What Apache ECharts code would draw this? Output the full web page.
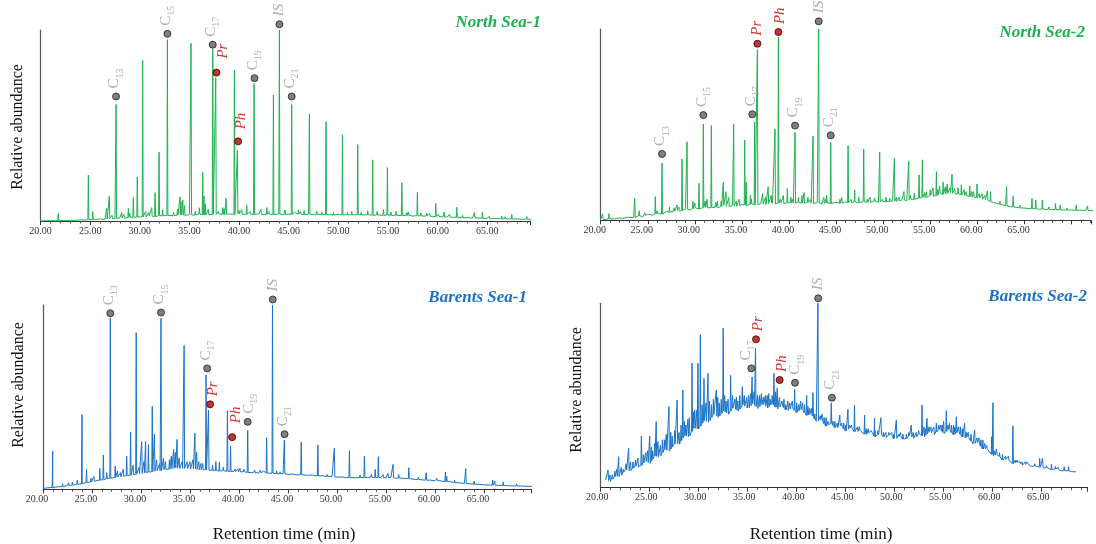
<!DOCTYPE html>
<html><head><meta charset="utf-8">
<script src="https://cdn.jsdelivr.net/npm/echarts@6/dist/echarts.min.js"></script>
<style>html,body{margin:0;padding:0;background:#fff}#c{width:1096px;height:544px}</style>
</head><body><div id="c"></div>
<script>
// ===== DATA =====
const xTickStep = 5;
const xLabelMax = 65;
const panelTitles = ['North Sea-1', 'North Sea-2', 'Barents Sea-1', 'Barents Sea-2'];
const yAxisTitle = 'Relative abundance';
const xAxisTitle = 'Retention time (min)';

// baselines: start time, step (min), values
const base1Start = 20, base1Step = 0.5;
const base1 = [0.000,0.001,0.002,0.001,0.003,0.002,0.004,0.003,0.006,0.005,0.009,0.007,0.011,0.009,0.013,0.012,0.017,0.014,0.020,0.018,
0.024,0.021,0.027,0.023,0.029,0.026,0.031,0.027,0.033,0.029,0.034,0.030,0.036,0.031,0.035,0.033,0.038,0.033,0.037,0.034,
0.038,0.033,0.037,0.034,0.038,0.033,0.036,0.034,0.037,0.033,0.036,0.034,0.037,0.033,0.036,0.033,0.036,0.032,0.035,0.032,
0.035,0.031,0.034,0.031,0.034,0.030,0.033,0.030,0.032,0.029,0.032,0.028,0.031,0.027,0.030,0.026,0.028,0.025,0.026,0.023,
0.024,0.021,0.022,0.019,0.020,0.017,0.018,0.015,0.016,0.014,0.014,0.012,0.013,0.011,0.012,0.010,0.011,0.009,0.010,0.009];
const peaks1 = [[21.79,0.04],[24.82,0.24],[25.26,0.05],[26.67,0.066],[26.93,0.13],[27.61,0.61],[28.18,0.045],[28.85,0.066],[29.35,0.122],[29.75,0.23],
[30.29,0.84],[31.54,0.148],[31.94,0.36],[32.78,0.95],[34.05,0.127],[34.33,0.11],[35.16,0.93],[36.34,0.255],[36.47,0.13],[37.35,0.90],
[37.65,0.75],[38.35,0.07],[38.69,0.12],[39.53,0.79],[39.83,0.37],[40.27,0.06],[40.77,0.084],[41.51,0.72],[42.79,0.07],[43.46,0.66],
[44.06,1.0],[44.63,0.058],[45.30,0.61],[45.98,0.058],[46.55,0.055],[47.08,0.56],[47.83,0.05],[48.33,0.048],[48.76,0.52],[50.41,0.45],
[51.35,0.05],[51.95,0.40],[52.96,0.054],[53.46,0.32],[54.54,0.06],[54.94,0.28],[55.81,0.05],[56.39,0.20],[57.05,0.047],[57.96,0.15],
[58.9,0.04],[59.81,0.092],[60.65,0.047],[61.93,0.072],[63.71,0.044],[64.51,0.047],[66.46,0.026],[66.8,0.023],[67.47,0.035],[68.98,0.023]];
const grass1 = [[23.1,0.012],[23.6,0.01],[25.9,0.02],[27.2,0.03],[28.4,0.035],[29.0,0.04],[30.6,0.05],[30.9,0.045],[31.2,0.07],[32.3,0.06],
[33.4,0.045],[33.8,0.06],[34.15,0.1],[34.5,0.08],[35.6,0.05],[36.0,0.07],[36.6,0.09],[36.9,0.06],[37.9,0.05],[38.5,0.065],
[40.0,0.055],[41.1,0.05],[42.2,0.06],[43.0,0.05],[45.6,0.045],[46.2,0.05],[49.5,0.045],[50.9,0.045],[52.3,0.045],[53.9,0.05],
[55.3,0.047],[56.9,0.045],[58.3,0.042],[59.2,0.04],[60.1,0.035],[61.2,0.035],[62.5,0.03],[63.2,0.028],[65.2,0.025],[65.8,0.022],[68.2,0.02]];
const ann1 = [['C13',27.61,0.652],['C15',32.78,0.98],['C17',37.35,0.923],['Pr',37.72,0.777],['Ph',39.9,0.417],['C19',41.55,0.748],['IS',44.06,1.03],['C21',45.3,0.652]];

const base2Start = 20, base2Step = 0.5;
const base2 = [0.005,0.004,0.009,0.007,0.012,0.010,0.016,0.014,0.023,0.020,0.032,0.027,0.037,0.033,0.046,0.040,0.053,0.047,0.060,0.054,
0.066,0.058,0.069,0.062,0.071,0.064,0.078,0.070,0.078,0.072,0.083,0.076,0.086,0.079,0.088,0.082,0.092,0.085,0.092,0.086,
0.095,0.088,0.095,0.088,0.094,0.087,0.092,0.086,0.092,0.087,0.094,0.088,0.096,0.090,0.097,0.091,0.098,0.092,0.099,0.094,
0.100,0.095,0.102,0.098,0.107,0.103,0.112,0.108,0.122,0.117,0.130,0.124,0.140,0.135,0.146,0.138,0.138,0.130,0.128,0.120,
0.120,0.110,0.106,0.096,0.090,0.082,0.076,0.071,0.069,0.065,0.064,0.061,0.062,0.058,0.059,0.056,0.057,0.055,0.055,0.053,
0.054,0.052,0.053,0.050,0.051,0.050];
const peaks2 = [[20.2,0.033],[20.88,0.035],[23.61,0.115],[24.1,0.05],[25.8,0.124],[26.51,0.30],[27.3,0.07],[28.1,0.08],[28.64,0.32],[29.17,0.41],
[29.8,0.1],[30.44,0.194],[30.9,0.504],[31.3,0.11],[31.75,0.495],[32.4,0.1],[33.02,0.2],[33.3,0.15],[33.6,0.12],[34.12,0.503],
[34.7,0.11],[35.29,0.42],[35.45,0.2],[35.9,0.13],[36.35,0.514],[36.64,0.893],[37.2,0.14],[37.78,0.176],[38.1,0.13],[38.51,0.477],
[38.87,0.957],[39.4,0.13],[39.82,0.167],[40.2,0.12],[40.64,0.46],[41.0,0.12],[41.37,0.13],[41.6,0.145],[42.0,0.12],[42.55,0.44],
[43.15,1.0],[43.7,0.12],[44.0,0.13],[44.43,0.407],[45.1,0.1],[45.6,0.12],[46.27,0.39],[46.98,0.158],[47.4,0.12],[47.93,0.373],
[48.6,0.12],[49.1,0.115],[49.63,0.357],[50.3,0.12],[50.7,0.115],[51.19,0.326],[51.7,0.12],[52.2,0.15],[52.71,0.31],[53.3,0.14],
[53.81,0.237],[54.16,0.316],[54.6,0.15],[55.0,0.16],[55.3,0.17],[55.65,0.254],[56.0,0.18],[56.36,0.2],[56.8,0.19],[57.31,0.242],
[57.95,0.17],[58.3,0.185],[58.8,0.15],[59.2,0.18],[59.6,0.15],[59.97,0.19],[60.5,0.14],[61.07,0.155],[61.4,0.15],[61.8,0.1],
[63.1,0.176],[63.8,0.127],[65.8,0.115],[66.2,0.106],[66.9,0.106],[68.3,0.088],[68.8,0.08],[70.5,0.08],[71.7,0.075]];
const grass2 = [[22.4,0.02],[24.7,0.04],[26.0,0.05],[27.8,0.065],[28.3,0.07],[30.0,0.09],[31.1,0.1],[32.2,0.095],[32.8,0.1],[34.4,0.1],
[36.0,0.11],[37.5,0.12],[38.2,0.12],[39.1,0.11],[40.4,0.11],[42.3,0.11],[43.9,0.11],[45.4,0.11],[46.6,0.11],[48.3,0.11],
[49.9,0.11],[51.4,0.12],[52.9,0.13],[54.4,0.145],[55.8,0.16],[56.6,0.175],[57.1,0.17],[57.6,0.165],[58.6,0.16],[59.4,0.15],
[60.2,0.14],[60.8,0.13],[62.4,0.1],[64.5,0.08],[67.6,0.07],[69.5,0.065]];
const ann2 = [['C13',26.51,0.347],['C15',30.9,0.55],['C17',36.1,0.554],['Pr',36.64,0.923],['Ph',38.87,0.984],['C19',40.64,0.495],['IS',43.15,1.04],['C21',44.43,0.444]];

const base3Start = 20, base3Step = 0.5;
const base3 = [0.005,0.008,0.010,0.013,0.015,0.020,0.022,0.028,0.030,0.038,0.040,0.048,0.050,0.058,0.060,0.066,0.068,0.074,0.077,0.082,
0.086,0.092,0.094,0.100,0.101,0.108,0.110,0.117,0.112,0.114,0.109,0.111,0.105,0.108,0.102,0.104,0.099,0.101,0.096,0.098,
0.094,0.096,0.090,0.092,0.088,0.090,0.086,0.088,0.083,0.085,0.081,0.083,0.078,0.080,0.076,0.077,0.072,0.074,0.069,0.070,
0.066,0.067,0.063,0.066,0.062,0.065,0.063,0.066,0.063,0.065,0.062,0.064,0.060,0.062,0.058,0.059,0.053,0.054,0.049,0.050,
0.046,0.047,0.041,0.042,0.036,0.036,0.031,0.031,0.027,0.027,0.024,0.024,0.022,0.022,0.020,0.020,0.018,0.018,0.017,0.016,0.016];
const peaks3 = [[20.99,0.207],[22.0,0.03],[22.6,0.035],[23.98,0.405],[24.44,0.108],[24.9,0.06],[25.8,0.114],[26.16,0.186],[26.87,0.93],[27.37,0.126],
[27.9,0.09],[28.54,0.18],[28.94,0.31],[29.51,0.85],[30.07,0.259],[30.47,0.26],[30.76,0.243],[31.15,0.45],[31.37,0.30],[31.9,0.14],
[32.04,0.928],[32.5,0.15],[32.9,0.16],[33.33,0.216],[33.5,0.2],[33.68,0.271],[34.4,0.78],[35.0,0.15],[35.5,0.304],[35.68,0.2],
[36.1,0.14],[36.64,0.62],[36.89,0.43],[37.64,0.15],[38.0,0.148],[38.82,0.427],[39.14,0.234],[39.6,0.11],[40.1,0.114],[40.89,0.32],
[41.6,0.105],[42.2,0.104],[42.82,0.28],[43.42,1.0],[43.85,0.1],[44.63,0.267],[45.4,0.09],[46.35,0.256],[47.2,0.085],[48.05,0.24],
[49.73,0.222],[51.27,0.209],[52.35,0.078],[52.8,0.18],[53.9,0.108],[54.22,0.177],[55.2,0.087],[55.72,0.135],[56.3,0.08],[57.33,0.117],
[59.11,0.09],[61.07,0.094],[61.2,0.07],[63.14,0.112],[64.0,0.045],[65.89,0.05],[66.1,0.045],[66.96,0.04],[68.32,0.03],[68.8,0.028]];
const grass3 = [[21.5,0.02],[23.0,0.04],[23.5,0.05],[25.2,0.07],[26.5,0.09],[27.6,0.1],[28.2,0.11],[29.2,0.13],[29.8,0.12],[30.3,0.15],
[31.6,0.16],[32.3,0.17],[33.1,0.18],[33.9,0.17],[34.2,0.15],[34.7,0.15],[35.3,0.16],[35.9,0.15],[36.3,0.14],[37.3,0.13],
[38.4,0.12],[39.9,0.11],[40.5,0.11],[41.3,0.1],[42.5,0.1],[44.2,0.095],[45.8,0.09],[47.6,0.085],[49.0,0.08],[50.6,0.075],
[53.5,0.08],[54.7,0.08],[56.8,0.07],[58.3,0.065],[60.2,0.06],[62.0,0.05]];
const ann3 = [['C13',26.87,0.955],['C15',32.04,0.959],['C17',36.75,0.656],['Pr',37.05,0.461],['Ph',39.3,0.283],['C19',40.89,0.366],['IS',43.45,1.03],['C21',44.65,0.299]];

const base4Start = 20.5, base4Step = 0.5;
const base4 = [0.042,0.035,0.062,0.060,0.098,0.090,0.118,0.110,0.145,0.132,0.172,0.165,0.207,0.198,0.238,0.236,0.283,0.276,0.323,0.318,
0.364,0.355,0.398,0.382,0.416,0.398,0.433,0.415,0.448,0.428,0.455,0.430,0.456,0.432,0.460,0.427,0.448,0.415,0.436,0.408,
0.428,0.392,0.402,0.360,0.370,0.334,0.352,0.320,0.338,0.308,0.328,0.298,0.316,0.286,0.305,0.277,0.296,0.268,0.289,0.261,
0.282,0.256,0.282,0.265,0.294,0.275,0.305,0.288,0.316,0.293,0.317,0.288,0.305,0.268,0.277,0.238,0.247,0.210,0.212,0.173,
0.182,0.150,0.156,0.130,0.138,0.122,0.130,0.115,0.120,0.106,0.109,0.098,0.103,0.091,0.095,0.087,0.086];
const peaks4 = [[20.75,0.096],[21.2,0.07],[21.83,0.168],[22.3,0.1],[22.85,0.213],[23.3,0.14],[23.8,0.16],[24.15,0.28],[24.6,0.19],[25.0,0.28],
[25.3,0.2],[25.66,0.358],[26.1,0.23],[26.5,0.26],[26.97,0.44],[27.3,0.28],[27.8,0.475],[28.0,0.3],[28.38,0.53],[28.7,0.34],
[29.05,0.38],[29.32,0.676],[29.6,0.42],[29.93,0.675],[30.17,0.83],[30.54,0.593],[30.95,0.62],[31.3,0.45],[31.8,0.53],[32.1,0.46],
[32.5,0.865],[32.8,0.47],[33.26,0.61],[33.7,0.48],[34.0,0.47],[34.45,0.548],[34.9,0.49],[35.1,0.5],[35.45,0.6],[35.8,0.756],
[36.2,0.5],[36.6,0.49],[37.0,0.5],[37.3,0.48],[37.68,0.62],[38.02,0.54],[38.5,0.47],[38.9,0.45],[39.3,0.46],[39.79,0.533],
[40.2,0.45],[40.6,0.46],[41.02,0.5],[41.3,0.43],[41.66,0.515],[42.17,1.0],[42.6,0.4],[43.0,0.38],[43.53,0.46],[43.9,0.36],
[44.4,0.394],[44.8,0.35],[45.23,0.425],[45.6,0.34],[45.9,0.448],[46.4,0.33],[46.93,0.394],[47.3,0.32],[47.95,0.376],[48.3,0.31],
[48.6,0.38],[49.1,0.3],[49.7,0.3],[50.17,0.367],[50.6,0.3],[51.2,0.29],[51.7,0.34],[52.2,0.3],[52.79,0.448],[53.0,0.33],
[53.3,0.376],[53.7,0.33],[54.25,0.35],[54.7,0.34],[55.0,0.36],[55.27,0.418],[55.6,0.35],[56.0,0.34],[56.3,0.385],[56.7,0.33],
[57.14,0.35],[57.5,0.3],[58.16,0.313],[58.6,0.27],[59.0,0.259],[59.4,0.23],[59.9,0.277],[60.03,0.461],[60.4,0.21],[61.0,0.18],
[61.6,0.17],[62.07,0.335],[62.5,0.15],[63.0,0.14],[63.5,0.14],[64.8,0.159],[65.1,0.159],[66.0,0.127],[66.4,0.115],[67.3,0.114],[67.75,0.114]];
const grass4 = [[20.95,0.07],[21.45,0.09],[21.65,0.1],[22.1,0.11],[22.6,0.13],[23.05,0.14],[23.55,0.15],[24.35,0.18],[24.8,0.2],[25.15,0.22],
[25.5,0.24],[25.85,0.25],[26.3,0.26],[26.7,0.29],[27.15,0.3],[27.55,0.31],[28.2,0.34],[28.55,0.36],[28.9,0.37],[29.45,0.41],
[29.8,0.42],[30.35,0.45],[30.75,0.46],[31.1,0.47],[31.5,0.48],[31.95,0.49],[32.3,0.48],[32.65,0.5],[33.0,0.48],[33.45,0.5],
[33.85,0.49],[34.2,0.5],[34.65,0.5],[35.3,0.51],[35.65,0.52],[36.0,0.5],[36.4,0.51],[36.8,0.5],[37.15,0.51],[37.5,0.5],
[37.85,0.52],[38.25,0.49],[38.7,0.48],[39.1,0.47],[39.55,0.47],[40.0,0.46],[40.4,0.47],[40.8,0.45],[41.15,0.44],[41.5,0.43],
[41.85,0.4],[42.4,0.39],[42.8,0.38],[43.2,0.36],[43.7,0.36],[44.15,0.35],[44.6,0.35],[45.0,0.34],[45.4,0.34],[45.75,0.33],
[46.2,0.33],[46.6,0.32],[47.1,0.32],[47.6,0.31],[48.0,0.31],[48.85,0.3],[49.4,0.3],[49.9,0.29],[50.4,0.29],[50.85,0.29],
[51.45,0.3],[51.9,0.3],[52.45,0.31],[53.15,0.32],[53.5,0.33],[54.0,0.33],[54.5,0.34],[54.85,0.34],[55.45,0.34],[55.8,0.34],
[56.15,0.33],[56.5,0.33],[56.9,0.32],[57.3,0.3],[57.8,0.29],[58.4,0.27],[58.8,0.26],[59.2,0.24],[59.6,0.22],[60.2,0.2],
[60.7,0.19],[61.3,0.17],[61.8,0.16],[62.3,0.15],[62.8,0.14],[63.3,0.14],[63.8,0.13],[64.3,0.13],[65.5,0.12],[66.7,0.11],[67.1,0.1],[68.0,0.1]];
const ann4 = [['C17',35.37,0.647],['Pr',35.85,0.805],['Ph',38.26,0.584],['C19',39.83,0.569],['IS',42.2,1.027],['C21',43.6,0.488]];

// ===== STYLE / LAYOUT =====
const FONT = '"Liberation Serif", "Times New Roman", serif';
const GREEN = '#1db250', BLUE = '#1a72c6';
// label offsets are in the rotated label frame: [up, right]
const panels = [
  {grid:{left:40.5, top:30, width:489.5, height:191}, xmax:69.3, color:GREEN, shift:0,
   start:base1Start, step:base1Step, base:base1, peaks:peaks1.concat(grass1), ann:ann1,
   offsets:{Pr:[6,7], Ph:[4,3]}},
  {grid:{left:600.7, top:29, width:490.6, height:191.3}, xmax:72.1, color:GREEN, shift:6,
   start:base2Start, step:base2Step, base:base2, peaks:peaks2.concat(grass2), ann:ann2,
   offsets:{Ph:[0,2]}},
  {grid:{left:43, top:305, width:488, height:184.3}, xmax:69.8, color:BLUE, shift:6,
   start:base3Start, step:base3Step, base:base3, peaks:peaks3.concat(grass3), ann:ann3,
   offsets:{Pr:[0,3], Ph:[6,4], C19:[0,3]}},
  {grid:{left:600.7, top:303.3, width:487, height:184.4}, xmax:69.7, color:BLUE, shift:3.5,
   start:base4Start, step:base4Step, base:base4, peaks:peaks4.concat(grass4), ann:ann4,
   offsets:{C17:[0,-4], Pr:[0,2], Ph:[0,2], C19:[0,2]}}
];

function buildTrace(p) {
  const pts = p.base.map((v, i) => [p.start + i * p.step, v]);
  const baseAt = t => {
    const f = (t - p.start) / p.step, i = Math.floor(f);
    if (i < 0) return p.base[0];
    if (i >= p.base.length - 1) return p.base[p.base.length - 1];
    const r = f - i; return p.base[i] * (1 - r) + p.base[i + 1] * r;
  };
  const w = 0.05;
  p.peaks.forEach(([t, h]) => { const b = baseAt(t); pts.push([t - w, b], [t, h], [t + w, b]); });
  pts.sort((a, b) => a[0] - b[0]);
  return pts;
}

const rich = {
  c: {fontFamily: FONT, fontSize: 15, lineHeight: 18, verticalAlign: 'top', color: '#9a9a9a'},
  s: {fontFamily: FONT, fontSize: 10, lineHeight: 10, verticalAlign: 'bottom', color: '#9a9a9a'},
  r: {fontFamily: FONT, fontSize: 15, fontStyle: 'italic', color: '#c00000'},
  i: {fontFamily: FONT, fontSize: 15, fontStyle: 'italic', color: '#9a9a9a'}
};
function fmt(name) {
  if (name === 'Pr' || name === 'Ph') return '{r|' + name + '}';
  if (name === 'IS') return '{i|IS}';
  return '{c|C}{s|' + name.slice(1) + '}';
}

const option = {
  animation: false,
  backgroundColor: '#fff',
  grid: panels.map(p => Object.assign({containLabel: false}, p.grid)),
  xAxis: panels.map((p, i) => ({
    type: 'value', gridIndex: i, min: 20, max: p.xmax, interval: xTickStep,
    axisLine: {lineStyle: {color: '#333', width: 1}},
    axisTick: {show: true, length: 4, lineStyle: {color: '#333'}},
    minorTick: {show: true, splitNumber: 5, length: 2.5, lineStyle: {color: '#555'}},
    splitLine: {show: false}, minorSplitLine: {show: false},
    axisLabel: {fontFamily: FONT, fontSize: 10, color: '#333', margin: 5,
      padding: [0, p.shift * 2, 0, 0],
      formatter: v => v > xLabelMax + 0.001 ? '' : v.toFixed(2)}
  })),
  yAxis: panels.map((p, i) => ({
    type: 'value', gridIndex: i, min: 0, max: 1,
    axisLine: {show: true, lineStyle: {color: '#555', width: 1.2}},
    axisTick: {show: false}, axisLabel: {show: false}, splitLine: {show: false}
  })),
  series: [],
  graphic: []
};

panels.forEach((p, i) => {
  option.series.push({
    type: 'line', xAxisIndex: i, yAxisIndex: i, data: buildTrace(p),
    showSymbol: false, symbol: 'none', silent: true, clip: true,
    lineStyle: {color: p.color, width: 1}, z: 2
  });
  option.series.push({
    type: 'scatter', xAxisIndex: i, yAxisIndex: i, symbolSize: 7, z: 5, silent: true, clip: false,
    data: p.ann.map(([name, t, v]) => {
      const red = name === 'Pr' || name === 'Ph';
      return {
        value: [t, v], name: name,
        itemStyle: {color: red ? '#b30000' : '#5e5e5e', borderColor: red ? '#3a0000' : '#222', borderWidth: 1},
        label: {offset: p.offsets[name] || [0, 0]}
      };
    }),
    label: {show: true, position: 'top', distance: 4, rotate: 90, align: 'left', verticalAlign: 'middle',
      formatter: prm => fmt(prm.name), rich: rich}
  });
});

const titleFont = 'bold italic 17px ' + FONT;
option.graphic = [
  {type: 'text', x: 541, y: 23, style: {text: panelTitles[0], font: titleFont, fill: GREEN, align: 'right', verticalAlign: 'middle'}},
  {type: 'text', x: 1085, y: 33, style: {text: panelTitles[1], font: titleFont, fill: GREEN, align: 'right', verticalAlign: 'middle'}},
  {type: 'text', x: 527, y: 298, style: {text: panelTitles[2], font: titleFont, fill: BLUE, align: 'right', verticalAlign: 'middle'}},
  {type: 'text', x: 1087, y: 297, style: {text: panelTitles[3], font: titleFont, fill: BLUE, align: 'right', verticalAlign: 'middle'}},
  {type: 'text', x: 18, y: 127, rotation: Math.PI / 2, style: {text: yAxisTitle, font: '16px ' + FONT, fill: '#111', align: 'center', verticalAlign: 'middle'}},
  {type: 'text', x: 19, y: 385, rotation: Math.PI / 2, style: {text: yAxisTitle, font: '16px ' + FONT, fill: '#111', align: 'center', verticalAlign: 'middle'}},
  {type: 'text', x: 577, y: 390, rotation: Math.PI / 2, style: {text: yAxisTitle, font: '16px ' + FONT, fill: '#111', align: 'center', verticalAlign: 'middle'}},
  {type: 'text', x: 284, y: 535, style: {text: xAxisTitle, font: '17px ' + FONT, fill: '#111', align: 'center', verticalAlign: 'middle'}},
  {type: 'text', x: 821, y: 535, style: {text: xAxisTitle, font: '17px ' + FONT, fill: '#111', align: 'center', verticalAlign: 'middle'}}
];

const chart = echarts.init(document.getElementById('c'), null, {renderer: 'canvas'});
chart.setOption(option);
</script></body></html>
